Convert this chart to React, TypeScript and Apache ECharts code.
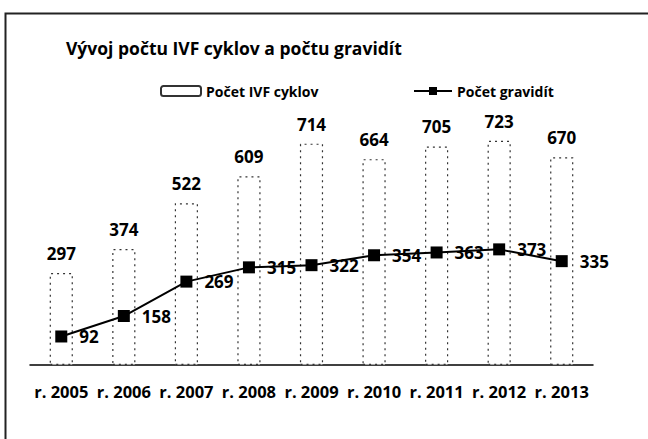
import React, { useEffect, useRef } from "react";
import * as echarts from "echarts";

const categories = ["r. 2005", "r. 2006", "r. 2007", "r. 2008", "r. 2009", "r. 2010", "r. 2011", "r. 2012", "r. 2013"];
const ivfCycles = [297, 374, 522, 609, 714, 664, 705, 723, 670];
const pregnancies = [92, 158, 269, 315, 322, 354, 363, 373, 335];
const titleText = "Vývoj počtu IVF cyklov a počtu gravidít";
const seriesNames = ["Počet IVF cyklov", "Počet gravidít"];

const FONT = "'Open Sans', 'Noto Sans', sans-serif";

export default function App() {
  const ref = useRef<HTMLDivElement>(null);
  useEffect(() => {
    if (!ref.current) return;
    const chart = echarts.init(ref.current, undefined, { renderer: "svg" });
    chart.setOption({
      animation: false,
      backgroundColor: "#ffffff",
      textStyle: { fontFamily: FONT },
      title: {
        text: titleText,
        left: 61,
        top: 34,
        textStyle: { fontFamily: FONT, fontSize: 17.5, fontWeight: "bold", color: "#000" },
      },
      graphic: [
        {
          type: "rect",
          shape: { x: 5.5, y: 13.5, width: 700, height: 500 },
          style: { fill: "none", stroke: "#222", lineWidth: 2 },
          silent: true,
        },
      ],
      legend: [
        {
          data: [seriesNames[0]],
          left: 155,
          top: 79,
          itemWidth: 40,
          itemHeight: 10,
          itemGap: 3,
          textStyle: { fontFamily: FONT, fontSize: 14, fontWeight: "bold", color: "#000" },
        },
        {
          data: [seriesNames[1]],
          left: 408,
          top: 79,
          itemWidth: 38,
          itemHeight: 10,
          itemGap: 3,
          textStyle: { fontFamily: FONT, fontSize: 14, fontWeight: "bold", color: "#000" },
        },
      ],
      grid: { left: 30, right: 55, top: 117, bottom: 74 },
      xAxis: {
        type: "category",
        data: categories,
        axisLine: { lineStyle: { color: "#000", width: 1.5 } },
        axisTick: { show: false },
        axisLabel: {
          margin: 18,
          fontFamily: FONT,
          fontSize: 16.5,
          fontWeight: "bold",
          color: "#000",
          interval: 0,
        },
      },
      yAxis: {
        type: "value",
        min: 0,
        max: 800,
        show: false,
        splitLine: { show: false },
      },
      series: [
        {
          name: seriesNames[0],
          type: "bar",
          data: ivfCycles,
          barWidth: "37%",
          itemStyle: {
            color: "#ffffff",
            borderColor: "#333",
            borderWidth: 1.2,
            borderType: [2, 4],
          },
          label: {
            show: true,
            position: "top",
            distance: 11,
            fontFamily: FONT,
            fontSize: 17,
            fontWeight: "bold",
            color: "#000",
          },
        },
        {
          name: seriesNames[1],
          type: "line",
          data: pregnancies,
          symbol: "rect",
          symbolSize: 12,
          lineStyle: { color: "#000", width: 2 },
          itemStyle: { color: "#000" },
          label: {
            show: true,
            position: "right",
            distance: 12,
            fontFamily: FONT,
            fontSize: 17,
            fontWeight: "bold",
            color: "#000",
          },
        },
      ],
    });
    return () => chart.dispose();
  }, []);
  return (
    <div
      ref={ref}
      style={{ position: "fixed", left: 0, top: 0, width: 648, height: 439 }}
    />
  );
}
